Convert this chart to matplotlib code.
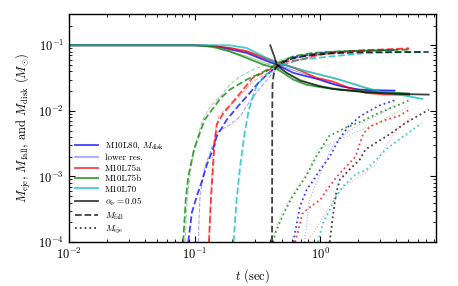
import matplotlib
matplotlib.use("Agg")
import matplotlib.pyplot as plt

plt.rcParams["font.family"] = "serif"
plt.rcParams["font.serif"] = ["cmr10"]
plt.rcParams["mathtext.fontset"] = "cm"
plt.rcParams["axes.unicode_minus"] = False
plt.rcParams["axes.formatter.use_mathtext"] = True

# ---- M10L80 (blue) ----
l80_t_disk = [0.01, 0.1, 0.145, 0.19, 0.26, 0.35, 0.45, 0.61, 0.78, 1.0, 1.19, 1.5, 2.06, 2.8, 3.9]
l80_m_disk = [0.1, 0.1, 0.098, 0.087, 0.0765, 0.0605, 0.0507, 0.038, 0.0336, 0.030, 0.0267, 0.0235, 0.021, 0.0205, 0.0203]
l80_t_fall = [0.089, 0.095, 0.104, 0.113, 0.125, 0.14, 0.15, 0.18, 0.22, 0.26, 0.33, 0.42, 0.57, 0.69, 1.0, 2.0, 3.9]
l80_m_fall = [1e-4, 2.8e-4, 5e-4, 7.9e-4, 1.5e-3, 2.6e-3, 4.1e-3, 7.3e-3, 0.0116, 0.0166, 0.0283, 0.0426, 0.064, 0.068, 0.0765, 0.083, 0.085]
l80_t_eje = [0.61, 0.65, 0.69, 0.78, 0.85, 1.0, 1.19, 1.4, 1.69, 2.1, 2.9, 3.9]
l80_m_eje = [1e-4, 1.9e-4, 3.5e-4, 6.3e-4, 7.9e-4, 1.27e-3, 2.0e-3, 3.6e-3, 5.9e-3, 8.4e-3, 0.0119, 0.0145]

# ---- M10L80 lower res. ----
l80lo_t_disk = [0.01, 0.1, 0.15, 0.19, 0.26, 0.35, 0.45, 0.6, 0.8, 1.0, 1.4, 2.0, 3.9]
l80lo_m_disk = [0.1, 0.1, 0.097, 0.09, 0.078, 0.063, 0.052, 0.042, 0.035, 0.029, 0.024, 0.0215, 0.0205]
l80lo_t_fall = [0.107, 0.11, 0.12, 0.133, 0.146, 0.155, 0.19, 0.23, 0.26, 0.33, 0.42, 0.57, 0.8, 1.5, 3.9]
l80lo_m_fall = [1e-4, 4.5e-4, 1.4e-3, 2.3e-3, 4.1e-3, 4.9e-3, 6.1e-3, 8.2e-3, 0.012, 0.022, 0.038, 0.06, 0.07, 0.08, 0.085]
l80lo_t_eje = [0.75, 0.82, 0.93, 1.05, 1.26, 1.6, 2.13, 3.0, 3.95]
l80lo_m_eje = [1e-4, 4.4e-4, 7.9e-4, 1.4e-3, 3.0e-3, 4.5e-3, 6.5e-3, 9e-3, 0.0125]

# ---- M10L75a (red) ----
l75a_t_disk = [0.01, 0.1, 0.14, 0.19, 0.26, 0.35, 0.45, 0.6, 0.72, 0.93, 1.26, 1.7, 2.3, 3.2, 5.1]
l75a_m_disk = [0.1, 0.1, 0.097, 0.091, 0.081, 0.065, 0.055, 0.046, 0.040, 0.032, 0.028, 0.0224, 0.0188, 0.0178, 0.0175]
l75a_t_fall = [0.13, 0.135, 0.143, 0.15, 0.17, 0.20, 0.29, 0.40, 0.52, 0.71, 0.96, 1.7, 3.0, 5.1]
l75a_m_fall = [1e-4, 4.5e-4, 2.6e-3, 6.2e-3, 9.3e-3, 0.0134, 0.032, 0.043, 0.056, 0.0605, 0.072, 0.081, 0.086, 0.09]
l75a_t_eje = [0.63, 0.66, 0.72, 0.81, 1.0, 1.13, 1.36, 1.6, 1.91, 2.02, 2.2, 2.5, 3.35, 4.3, 5.1]
l75a_m_eje = [1e-4, 1.36e-4, 2.7e-4, 3.3e-4, 4.4e-4, 6.3e-4, 1e-3, 1.4e-3, 2.0e-3, 2.8e-3, 4.5e-3, 5.8e-3, 7.3e-3, 8.5e-3, 0.0104]

# ---- M10L75a lower res. ----
l75alo_t_disk = [0.01, 0.1, 0.15, 0.19, 0.26, 0.35, 0.45, 0.6, 0.8, 1.0, 1.4, 2.0, 3.0, 5.1]
l75alo_m_disk = [0.1, 0.1, 0.097, 0.092, 0.083, 0.068, 0.057, 0.047, 0.040, 0.035, 0.030, 0.024, 0.019, 0.0178]
l75alo_t_fall = [0.13, 0.134, 0.14, 0.146, 0.155, 0.17, 0.19, 0.23, 0.29, 0.4, 0.55, 0.8, 1.5, 5.1]
l75alo_m_fall = [1e-4, 5e-4, 2e-3, 5e-3, 8e-3, 0.010, 0.012, 0.017, 0.028, 0.040, 0.053, 0.066, 0.079, 0.088]
l75alo_t_eje = [0.81, 1.03, 1.32, 1.58, 2.14, 2.74, 3.5, 3.95, 5.2]
l75alo_m_eje = [1.1e-4, 2.2e-4, 5e-4, 7.2e-4, 1.06e-3, 1.5e-3, 3.4e-3, 4.9e-3, 7.8e-3]

# ---- M10L75b (green) ----
l75b_t_disk = [0.01, 0.1, 0.11, 0.14, 0.19, 0.26, 0.35, 0.45, 0.61, 0.78, 1.0, 1.43, 2.47, 4.27, 5.1]
l75b_m_disk = [0.1, 0.1, 0.099, 0.095, 0.081, 0.064, 0.051, 0.044, 0.030, 0.025, 0.023, 0.021, 0.0196, 0.0188, 0.0183]
l75b_t_fall = [0.081, 0.085, 0.089, 0.099, 0.12, 0.16, 0.19, 0.26, 0.34, 0.40, 0.45, 0.61, 0.87, 1.43, 5.1]
l75b_m_fall = [1e-4, 4.5e-4, 1e-3, 2.6e-3, 7.3e-3, 0.0154, 0.021, 0.030, 0.038, 0.045, 0.0526, 0.068, 0.0765, 0.081, 0.086]
l75b_t_eje = [0.42, 0.44, 0.50, 0.60, 0.77, 0.93, 1.17, 1.58, 2.13, 2.91, 3.95, 5.2]
l75b_m_eje = [1e-4, 1.37e-4, 2.5e-4, 4.9e-4, 1e-3, 2e-3, 4.1e-3, 5.5e-3, 6.9e-3, 9.3e-3, 0.0117, 0.0148]

# ---- M10L75b lower res. ----
l75blo_t_disk = [0.01, 0.1, 0.12, 0.15, 0.19, 0.26, 0.35, 0.45, 0.6, 0.8, 1.0, 1.5, 2.5, 5.1]
l75blo_m_disk = [0.1, 0.1, 0.097, 0.09, 0.08, 0.068, 0.055, 0.046, 0.034, 0.027, 0.024, 0.0215, 0.0195, 0.0185]
l75blo_t_fall = [0.084, 0.087, 0.092, 0.1, 0.115, 0.133, 0.16, 0.19, 0.23, 0.31, 0.45, 0.7, 1.2, 5.1]
l75blo_m_fall = [1e-4, 4e-4, 1.1e-3, 2.8e-3, 7e-3, 0.0117, 0.0166, 0.025, 0.0336, 0.045, 0.058, 0.072, 0.08, 0.086]
l75blo_t_eje = [0.41, 0.48, 0.61, 0.78, 0.96, 1.4, 2.13, 2.9, 3.95, 5.2]
l75blo_m_eje = [1e-4, 2.5e-4, 5.6e-4, 1.1e-3, 2.6e-3, 3.6e-3, 5.2e-3, 6.6e-3, 9.3e-3, 0.0117]

# ---- M10L70 (cyan) ----
l70_t_disk = [0.01, 0.15, 0.19, 0.26, 0.35, 0.45, 0.61, 0.69, 0.93, 1.26, 1.71, 2.33, 2.97, 4.27, 6.5]
l70_m_disk = [0.1, 0.1, 0.1, 0.091, 0.068, 0.054, 0.046, 0.0425, 0.037, 0.032, 0.027, 0.0224, 0.0198, 0.0177, 0.0152]
l70_t_fall = [0.204, 0.216, 0.23, 0.25, 0.27, 0.31, 0.37, 0.48, 0.69, 1.26, 2.33, 6.5]
l70_m_fall = [1e-4, 4.5e-4, 1.4e-3, 4.6e-3, 0.0104, 0.0237, 0.0357, 0.049, 0.0605, 0.068, 0.0765, 0.079]
l70_t_eje = [0.96, 1.05, 1.19, 1.34, 1.52, 1.94, 2.33, 2.79, 3.35, 4.2, 6.4]
l70_m_eje = [1e-4, 1.93e-4, 3.1e-4, 5e-4, 7.1e-4, 1.1e-3, 1.27e-3, 1.8e-3, 2.6e-3, 3.6e-3, 6.5e-3]

# ---- alpha_nu = 0.05 (black) ----
a05_t_disk = [0.40, 0.43, 0.45, 0.49, 0.54, 0.69, 1.0, 1.26, 2.3, 4.27, 7.3]
a05_m_disk = [0.1, 0.068, 0.051, 0.044, 0.038, 0.029, 0.0237, 0.0216, 0.0192, 0.0181, 0.0177]
a05_t_fall = [0.413, 0.414, 0.415, 0.417, 0.425, 0.44, 0.5, 0.6, 0.8, 1.2, 2.0, 4.0, 7.3]
a05_m_fall = [1e-4, 1e-3, 0.01, 0.025, 0.035, 0.045, 0.055, 0.063, 0.07, 0.075, 0.078, 0.079, 0.079]
a05_t_eje = [1.19, 1.26, 1.34, 1.43, 1.71, 2.06, 2.3, 3.5, 4.75, 7.3]
a05_m_eje = [1e-4, 2.5e-4, 5.6e-4, 8.9e-4, 1.27e-3, 1.8e-3, 2.6e-3, 4.3e-3, 6.5e-3, 0.0104]

fig = plt.figure(figsize=(4.58, 2.86), dpi=100)
ax = fig.add_axes([0.1507, 0.1538, 0.8006, 0.7972])

main_lw = 1.3
lo_lw = 0.8
main_a = 0.75
lo_a = 0.35

models = [
    ("b", main_a, main_lw, l80_t_disk, l80_m_disk, l80_t_fall, l80_m_fall, l80_t_eje, l80_m_eje),
    ("b", lo_a, lo_lw, l80lo_t_disk, l80lo_m_disk, l80lo_t_fall, l80lo_m_fall, l80lo_t_eje, l80lo_m_eje),
    ("r", main_a, main_lw, l75a_t_disk, l75a_m_disk, l75a_t_fall, l75a_m_fall, l75a_t_eje, l75a_m_eje),
    ("r", lo_a, lo_lw, l75alo_t_disk, l75alo_m_disk, l75alo_t_fall, l75alo_m_fall, l75alo_t_eje, l75alo_m_eje),
    ("g", main_a, main_lw, l75b_t_disk, l75b_m_disk, l75b_t_fall, l75b_m_fall, l75b_t_eje, l75b_m_eje),
    ("g", lo_a, lo_lw, l75blo_t_disk, l75blo_m_disk, l75blo_t_fall, l75blo_m_fall, l75blo_t_eje, l75blo_m_eje),
    ("c", main_a, main_lw, l70_t_disk, l70_m_disk, l70_t_fall, l70_m_fall, l70_t_eje, l70_m_eje),
    ("k", main_a, main_lw, a05_t_disk, a05_m_disk, a05_t_fall, a05_m_fall, a05_t_eje, a05_m_eje),
]

for c, a, lw, td, md, tf, mf, te, me in models:
    ax.plot(td, md, "-", color=c, alpha=a, lw=lw)
    ax.plot(tf, mf, "--", color=c, alpha=a, lw=lw)
    ax.plot(te, me, ":", color=c, alpha=a, lw=lw)

ax.set_xscale("log")
ax.set_yscale("log")
ax.set_xlim(0.01, 8.3)
ax.set_ylim(1e-4, 0.3)

# legend handles
handles = [
    plt.Line2D([], [], color="b", alpha=main_a, lw=main_lw),
    plt.Line2D([], [], color="b", alpha=lo_a, lw=main_lw),
    plt.Line2D([], [], color="r", alpha=main_a, lw=main_lw),
    plt.Line2D([], [], color="g", alpha=main_a, lw=main_lw),
    plt.Line2D([], [], color="c", alpha=main_a, lw=main_lw),
    plt.Line2D([], [], color="k", alpha=main_a, lw=main_lw),
    plt.Line2D([], [], color="k", alpha=main_a, lw=main_lw, ls="--"),
    plt.Line2D([], [], color="k", alpha=main_a, lw=main_lw, ls=":"),
]
labels = ["M10L80, $M_{\\rm disk}$", "lower res.", "M10L75a", "M10L75b", "M10L70",
          "$\\alpha_\\nu = 0.05$", "$M_{\\rm fall}$", "$M_{\\rm eje}$"]
ax.legend(handles, labels, loc="lower left", frameon=False, fontsize=6.5,
          handlelength=2.55, handletextpad=0.75, labelspacing=0.22,
          borderaxespad=0.3)

ax.set_xlabel("$t$ (sec)", fontsize=9)
ax.set_ylabel("$M_{\\rm eje}$, $M_{\\rm fall}$, and $M_{\\rm disk}$ $(M_{\\odot})$", fontsize=9)
ax.tick_params(which="both", direction="in", top=True, right=True, labelsize=9)
ax.tick_params(which="major", length=4, width=0.8)
ax.tick_params(which="minor", length=2, width=0.6)
for s in ax.spines.values():
    s.set_linewidth(1.0)

fig.savefig("out.png", dpi=100)
